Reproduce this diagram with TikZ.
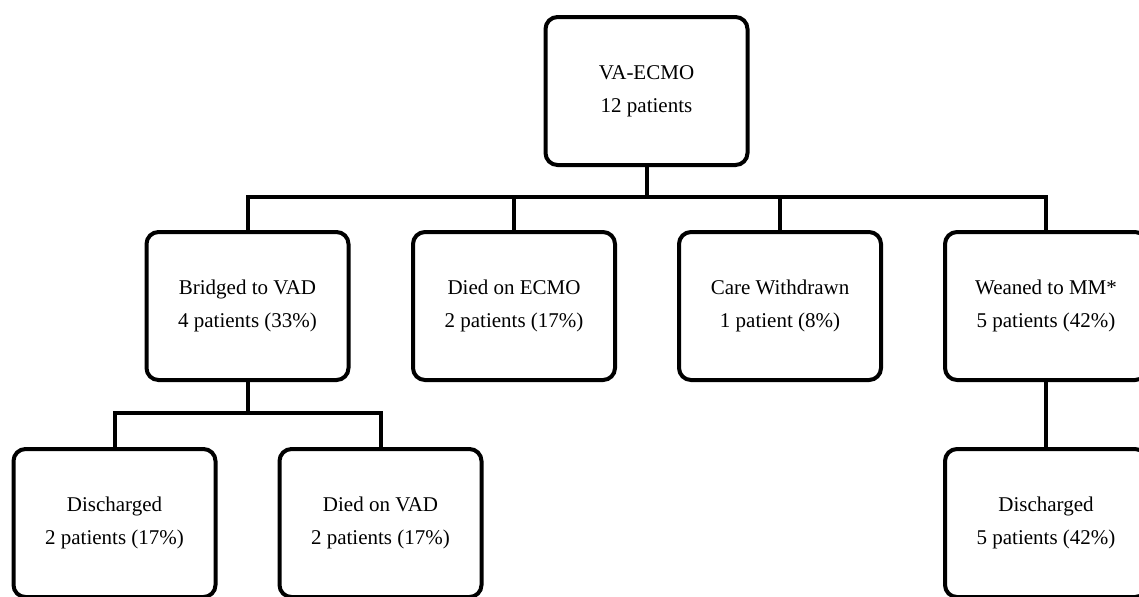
\documentclass[tikz,border=0pt]{standalone}
\usepackage{fontspec}
\setmainfont{Liberation Serif}

\begin{document}
\begin{tikzpicture}[
    x=0.5pt, y=-0.5pt,
    outcome/.style={rectangle, draw, line width=2pt, rounded corners=6pt, align=center,
        minimum width=101pt, minimum height=74pt, inner sep=0pt,
        font=\fontsize{10.5}{16.5}\selectfont},
    link/.style={line width=2pt}
]

\useasboundingbox (0,0) rectangle (1139,596);
\clip (0,0) rectangle (1139,596);

% top level
\node[outcome] (ecmo) at (646.5,91) {VA-ECMO\\12 patients};

% first split
\node[outcome] (bridged) at (247.5,306) {Bridged to VAD\\4 patients (33\%)};
\node[outcome] (diedecmo) at (514,306) {Died on ECMO\\2 patients (17\%)};
\node[outcome] (withdrawn) at (780,306) {Care Withdrawn\\1 patient (8\%)};
\node[outcome] (weaned) at (1046,306) {Weaned to MM*\\5 patients (42\%)};

% second split
\node[outcome] (dischvad) at (114.5,523) {Discharged\\2 patients (17\%)};
\node[outcome] (diedvad) at (380.5,523) {Died on VAD\\2 patients (17\%)};
\node[outcome] (dischmm) at (1046,523) {Discharged\\5 patients (42\%)};

\coordinate (bar) at (646.5,197);
\coordinate (subbar) at (247.5,413);

\draw[link] (ecmo.south) -- (bar);
\draw[link] (bridged.north) |- (bar) -| (weaned.north);
\draw[link] (diedecmo.north) -- (diedecmo.north |- bar);
\draw[link] (withdrawn.north) -- (withdrawn.north |- bar);

\draw[link] (bridged.south) -- (subbar);
\draw[link] (dischvad.north) |- (subbar) -| (diedvad.north);
\draw[link] (weaned.south) -- (dischmm.north);

\end{tikzpicture}
\end{document}
